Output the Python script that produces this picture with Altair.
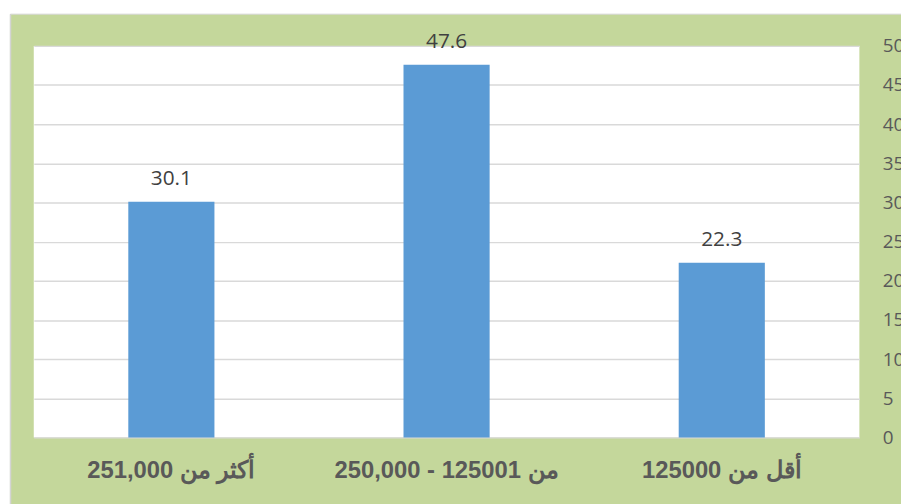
import altair as alt
import pandas as pd

# Data (display order left -> right)
categories = ["251,000 أكثر من", "250,000 - 125001 من", "125000 أقل من"]
values = [30.1, 47.6, 22.3]
y_ticks = [0, 5, 10, 15, 20, 25, 30, 35, 40, 45, 50]

df = pd.DataFrame({"cat": categories, "val": values})

GREEN = "#c4d79b"
BLUE = "#5b9bd5"

one = alt.Data(values=[{}])

top_strip = alt.Chart(one).mark_rect(color="white").encode(
    x=alt.value(-26), x2=alt.value(880), y=alt.value(-40), y2=alt.value(-32)
)
left_strip = alt.Chart(one).mark_rect(color="white").encode(
    x=alt.value(-30), x2=alt.value(-24), y=alt.value(-40), y2=alt.value(480)
)
left_line = alt.Chart(one).mark_rule(color="#d4d4d4", strokeWidth=1.5).encode(
    x=alt.value(-23.5), y=alt.value(-32), y2=alt.value(480)
)
top_line = alt.Chart(one).mark_rule(color="#d4d4d4", strokeWidth=1).encode(
    x=alt.value(-23.5), x2=alt.value(880), y=alt.value(-32)
)

x_enc = alt.X(
    "cat:N",
    sort=None,
    title=None,
    scale=alt.Scale(paddingInner=0.687, paddingOuter=0.3435),
    axis=alt.Axis(
        labelAngle=0,
        ticks=False,
        domain=False,
        labelFont="Liberation Sans",
        labelFontWeight="bold",
        labelFontSize=24,
        labelColor="#595959",
        labelPadding=21,
        labelBaseline="top",
        labelLimit=0,
        labelOverlap=False,
    ),
)
y_enc = alt.Y(
    "val:Q",
    title=None,
    scale=alt.Scale(domain=[0, 50], nice=False),
    axis=alt.Axis(
        orient="right",
        values=y_ticks,
        ticks=False,
        domain=False,
        grid=True,
        gridColor="#d9d9d9",
        gridWidth=1.5,
        labelFont="Open Sans",
        labelFontSize=19,
        labelColor="#595959",
        labelPadding=23,
        labelAlign="left",
        labelOverlap=False,
        labelFlush=False,
    ),
)

base = alt.Chart(df)
bars = base.mark_bar(color=BLUE).encode(x=x_enc, y=y_enc)
labels = base.mark_text(
    font="Open Sans", fontSize=21, color="#404040", baseline="alphabetic", dy=-17
).encode(x=x_enc, y=y_enc, text=alt.Text("val:Q", format=".1f"))

chart = (
    alt.layer(top_strip, left_strip, left_line, top_line, bars, labels)
    .properties(
        width=833,
        height=395,
        background=GREEN,
        padding={"left": 26, "top": 36, "right": 42, "bottom": 65},
        autosize=alt.AutoSizeParams(type="none"),
    )
    .configure_view(fill="white", stroke=None)
)

chart.save("out.html", embed_options={"renderer": "svg", "actions": False})
